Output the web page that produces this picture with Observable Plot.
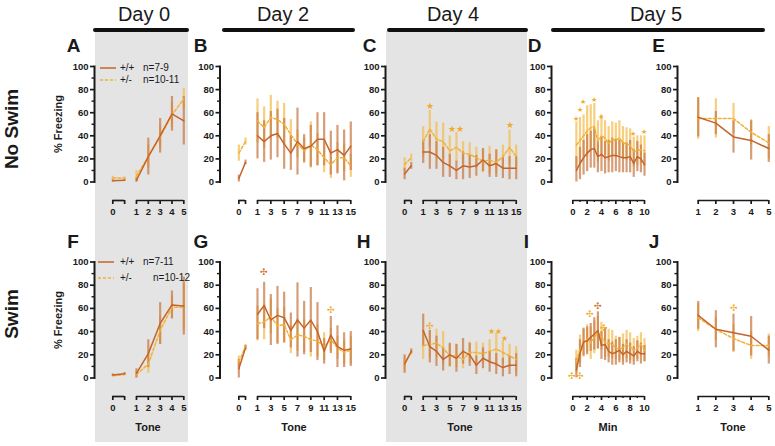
<!DOCTYPE html>
<html><head><meta charset="utf-8">
<script src="https://cdn.jsdelivr.net/npm/d3@7"></script>
<script src="https://cdn.jsdelivr.net/npm/@observablehq/plot@0.6"></script>
<style>
body{margin:0;background:#fff;}
#fig{position:relative;width:775px;height:446px;overflow:hidden;font-family:"Liberation Sans",Arial,sans-serif;color:#1a1a1a;background:#fff;}
.abs{position:absolute;line-height:1;white-space:nowrap;}
.c{transform:translate(-50%,-50%);}
.grey{background:#e4e4e4;}
.bar{background:#111;height:4.5px;border-radius:2.25px;}
.day{font-size:20px;}
.letter{font-weight:bold;font-size:19px;}
.rowlab{font-weight:bold;font-size:19px;transform:translate(-50%,-50%) rotate(-90deg);}
.ylab{font-weight:bold;font-size:11px;transform:translate(-50%,-50%) rotate(-90deg);}
.xlab{font-weight:bold;font-size:11px;}
.leg{font-size:10px;}
</style>
</head><body><div id="fig"></div>
<script>
// ---------------- data ----------------
const WT_LABEL = "+/+", HET_LABEL = "+/-";
const legendTop = ["n=7-9", "n=10-11"];
const legendBottom = ["n=7-11", "n=10-12"];
const dayLabels = ["Day 0", "Day 2", "Day 4", "Day 5"];
const rowLabels = ["No Swim", "Swim"];
const panelLetters = ["A","B","C","D","E","F","G","H","I","J"];

const tones5 = [1,2,3,4,5];
const tones15 = [1,2,3,4,5,6,7,8,9,10,11,12,13,14,15];
const mins = [0.5,1,1.5,2,2.5,3,3.5,4,4.5,5,5.5,6,6.5,7,7.5,8,8.5,9,9.5,10];
const baseA = [-1, 0];        // baseline bins (label "0")
const baseB = [-1.8, -0.8];

// A: Day 0, No Swim
const A_wt = [1.5, 22, 40, 59, 53];     const A_wtErr = [2, 16, 15, 15, 21];
const A_het = [5, 22, 39, 58, 72];      const A_hetErr = [5, 10, 10, 11, 9];
const A_bWt = [1, 1.5];  const A_bWtErr = [1, 1];
const A_bHet = [3.5, 3.5]; const A_bHetErr = [1.5, 1];
// B: Day 2, No Swim
const B_wt = [40,35,40,42,33,25,35,29,31,37,37,25,28,23,31];
const B_wtErr = [20,18,21,21,22,15,29,12,18,23,23,19,21,22,21];
const B_het = [53,47,56,54,50,41,33,27,32,28,21,15,21,21,14];
const B_hetErr = [19,18,19,16,18,13,12,11,20,14,13,12,13,12,10];
const B_bWt = [3, 17]; const B_bWtErr = [3, 2];
const B_bHet = [25, 35]; const B_bHetErr = [7, 3];
// C: Day 4, No Swim
const C_wt = [26,26,23,17,14,10,14,13,14,19,14,16,12,12,12];
const C_wtErr = [10,15,12,13,10,8,12,10,9,10,10,12,9,10,10];
const C_het = [35,46,37,35,27,30,25,24,21,18,19,17,22,30,22];
const C_hetErr = [13,16,15,16,13,13,10,10,9,10,12,10,10,15,10];
const C_bWt = [7, 14]; const C_bWtErr = [5, 3];
const C_bHet = [15, 21]; const C_bHetErr = [6, 3];
const C_starX = [2, 6, 14]; const C_starY = [66, 46, 49]; const C_starT = ["★", "★★", "★"];
// D: Day 5 (min), No Swim
const D_wt = [10,16,21,25,28,29,22,24,21,22,23,23,22,21,21,22,16,22,20,15];
const D_wtErr = [12,14,15,16,16,17,14,15,14,14,15,14,14,13,13,14,12,13,12,10];
const D_het = [32,36,40,44,47,48,35,40,38,33,37,36,38,34,33,32,26,27,28,27];
const D_hetErr = [20,20,18,22,20,20,18,18,15,15,15,15,15,14,14,14,13,13,12,13];
const D_starX = [0.45, 0.95, 1.45, 2.9, 3.95, 8.4, 9.95];
const D_starY = [55, 62, 69, 71, 56, 42, 43];
const D_starT = ["★","★","★","★","★","★","★"];
// E: Day 5 (tone), No Swim
const E_wt = [56,51,39,36,29]; const E_wtErr = [17,10,14,17,12];
const E_het = [55,55,55,43,34]; const E_hetErr = [18,17,13,11,14];
// F: Day 0, Swim
const F_wt = [4,21,47,63,62]; const F_wtErr = [4,12,18,12,25];
const F_het = [3,12,41,61,61]; const F_hetErr = [3,8,12,10,20];
const F_bWt = [2.5, 3.7]; const F_bWtErr = [1, 1];
const F_bHet = [2, 3]; const F_bHetErr = [1, 1];
// G: Day 2, Swim
const G_wt = [55,62.5,50,54,52,41,50,43,50,40,23,37,27,24,25];
const G_wtErr = [22,20,22,25,22,15,32,23,28,25,11,16,18,15,15];
const G_het = [47,48,53,45,46,33,37,36,33,32,27,33,26,22,24];
const G_hetErr = [15,15,15,15,15,12,14,14,15,14,12,10,10,10,12];
const G_bWt = [8, 26]; const G_bWtErr = [8, 2];
const G_bHet = [14, 27]; const G_bHetErr = [5, 2];
const G_crossWtX = [2]; const G_crossWtY = [91]; const G_crossWtT = ["✣"];
const G_crossHetX = [12]; const G_crossHetY = [58]; const G_crossHetT = ["✣"];
// H: Day 4, Swim
const H_wt = [41,27,23,16,20,17,23,20,11,17,14,12,9,11,11];
const H_wtErr = [14,14,13,10,10,12,11,10,8,9,9,9,8,8,10];
const H_het = [28,29,30,26,19,19,16,22,22,21,23,25,22,19,16];
const H_hetErr = [12,12,12,14,10,10,8,9,9,9,10,14,10,10,11];
const H_bWt = [12, 23]; const H_bWtErr = [8, 2];
const H_bHet = [12, 22]; const H_bHetErr = [6, 2];
const H_crossHetX = [2]; const H_crossHetY = [45]; const H_crossHetT = ["✣"];
const H_starX = [11.8, 13.2]; const H_starY = [40, 34]; const H_starT = ["★★", "★"];
// I: Day 5 (min), Swim
const I_wt = [7,21,31,32,35,38,41,28,29,23,21,22,24,20,23,21,19,23,21,21];
const I_wtErr = [10,12,12,12,12,14,16,12,14,10,10,11,11,9,10,9,8,9,9,7];
const I_het = [14,25,30,34,30,35,39,36,30,30,29,26,25,26,29,27,24,26,29,24];
const I_hetErr = [10,12,12,12,14,14,14,12,12,12,12,10,10,12,12,12,10,10,10,10];
const I_crossHetX = [0.47, 2.4, 4.35]; const I_crossHetY = [1.5, 55, 43]; const I_crossHetT = ["✣✣", "✣", "✣"];
const I_crossWtX = [3.45]; const I_crossWtY = [62]; const I_crossWtT = ["✣"];
// J: Day 5 (tone), Swim
const J_wt = [54,42,39,36,24]; const J_wtErr = [12,16,16,17,12];
const J_het = [52,42,34,28,28]; const J_hetErr = [12,10,12,12,10];
const J_crossHetX = [3]; const J_crossHetY = [60]; const J_crossHetT = ["✣"];

// ---------------- style ----------------
const INK = "#1a1a1a";
const WT = "#c4642a", HET = "#f2b136";
const WT_ERR = "#c97c48", HET_ERR = "#f3bd52";
const MARK_HET = "#f0aa2c", MARK_WT = "#cf6e2c";
const FONT = "'Liberation Sans', Arial, sans-serif";

const fig = document.getElementById("fig");
function el(cls, txt, left, top, extra) {
  const d = document.createElement("div");
  d.className = "abs " + cls;
  d.textContent = txt;
  d.style.left = left + "px"; d.style.top = top + "px";
  if (extra) Object.assign(d.style, extra);
  fig.appendChild(d); return d;
}

// grey backgrounds
el("grey", "", 95, 31, {width: "93px", height: "411px"});
el("grey", "", 386, 31, {width: "141px", height: "411px"});
// header bars and labels
[[93,189],[222,355],[387,528],[551,765]].forEach(([a,b]) => el("bar","",a,27.5,{width:(b-a)+"px"}));
[[144,14],[283,14],[453,14],[656,14]].forEach(([x,y],i) => el("day c", dayLabels[i], x, y));
// row labels
el("rowlab", rowLabels[0], 11, 129);
el("rowlab", rowLabels[1], 11, 314);
// panel letters
[[73.5,45],[200.5,45],[369.5,45],[534.5,45],[658.5,45],[73,241],[201,241],[363.5,241],[526.5,241],[654,241]]
  .forEach(([x,y],i) => el("letter c", panelLetters[i], x, y));
// y titles
el("ylab", "% Freezing", 57.5, 123.5);
el("ylab", "% Freezing", 57.5, 319.5);
// x titles
[["Tone",148],["Tone",294],["Tone",460],["Min",608],["Tone",733]].forEach(([t,x]) => el("xlab c", t, x, 427));

// legends
function legend(x, y1, y2, nLabels, nX2) {
  const mk = (y, dash, color, lab, n, nx) => {
    const s = document.createElementNS("http://www.w3.org/2000/svg","svg");
    s.setAttribute("width","16"); s.setAttribute("height","4");
    s.style.position="absolute"; s.style.left=(x)+"px"; s.style.top=(y-2)+"px";
    const l = document.createElementNS("http://www.w3.org/2000/svg","line");
    l.setAttribute("x1","0"); l.setAttribute("x2","16"); l.setAttribute("y1","2"); l.setAttribute("y2","2");
    l.setAttribute("stroke", color); l.setAttribute("stroke-width","1.5");
    if (dash) l.setAttribute("stroke-dasharray","3,2");
    s.appendChild(l); fig.appendChild(s);
    el("leg", lab, 120, y, {transform:"translateY(-50%)"});
    el("leg", n, nx, y, {transform:"translateY(-50%)"});
  };
  mk(y1, false, WT, WT_LABEL, nLabels[0], 143);
  mk(y2, true, HET, HET_LABEL, nLabels[1], nX2);
}

// ---------------- panels ----------------
const ROWS = [{top:56, py0:181.5, py100:66}, {top:252, py0:377.5, py100:261.5}];
const COLS = {
  A:{left:60, width:135, axisX:94, dom:[-1,5], px:[112.3,183.3]},
  B:{left:190, width:170, axisX:219.5, dom:[1,15], px:[257,350.3]},
  C:{left:355, width:170, axisX:385, dom:[1,15], px:[422.7,515.7]},
  D:{left:521, width:130, axisX:551, dom:[0,10], px:[572.3,644]},
  E:{left:647, width:128, axisX:677, dom:[1,5], px:[697.7,768.3]}
};
const H = 174, DY = 18.5;

function seriesMarks(xs, ys, es, color, errColor, dash) {
  const d = xs.map((x,i)=>({x, y: ys[i], e: es[i]}));
  return {
    err: Plot.ruleX(d, {x:"x", y1: r=>Math.max(0, r.y - r.e), y2: r=>r.y + r.e, stroke: errColor, strokeWidth: 2.2, strokeOpacity: 0.75}),
    line: Plot.line(d, {x:"x", y:"y", stroke: color, strokeWidth: 1.5, strokeDasharray: dash})
  };
}
function axisGroup(ax) {
  const out = [
    Plot.ruleY([0], {x1: () => ax.extent[0], x2: () => ax.extent[1], dy: DY, stroke: INK, strokeWidth: 1.7}),
    Plot.axisX({ticks: ax.ticks, tickFormat: ax.fmt, tickSize: 4, tickPadding: 4, dy: DY, label: null, strokeWidth: 1.7, fontSize: 9.5})
  ];
  if (ax.minor) out.push(Plot.axisX({ticks: ax.minor, tickFormat: () => "", tickSize: 2, dy: DY, label: null, strokeWidth: 1.4}));
  return out;
}
function symbols(xs, ys, ts, color, size) {
  const d = xs.map((x,i)=>({x, y: ys[i], t: ts[i]}));
  return Plot.text(d, {x:"x", y:"y", text: "t", fill: color, fontSize: size || 8.5, fontWeight: "normal"});
}

function panel(colKey, row, cfg) {
  const C = COLS[colKey], R = ROWS[row];
  const top = R.top;
  const mt = R.py100 - top, mb = H - (R.py0 - top);
  const marks = [
    Plot.frame({anchor: "left", stroke: INK, strokeWidth: 2}),
    Plot.axisY({ticks: [0,20,40,60,80,100], tickSize: 4, tickPadding: 2, label: null, strokeWidth: 1.7, fontSize: 9.5}),
    Plot.axisY({ticks: [10,30,50,70,90], tickSize: 2.5, tickFormat: () => "", label: null, strokeWidth: 1.4})
  ];
  cfg.axes.forEach(ax => marks.push(...axisGroup(ax)));
  const groups = [];
  if (cfg.base) {
    groups.push(seriesMarks(cfg.base.x, cfg.base.het, cfg.base.hetErr, HET, HET_ERR, "3,2"));
    groups.push(seriesMarks(cfg.base.x, cfg.base.wt, cfg.base.wtErr, WT, WT_ERR, null));
  }
  groups.push(seriesMarks(cfg.x, cfg.het, cfg.hetErr, HET, HET_ERR, "3,2"));
  groups.push(seriesMarks(cfg.x, cfg.wt, cfg.wtErr, WT, WT_ERR, null));
  groups.forEach(g => marks.push(g.err));
  groups.forEach(g => marks.push(g.line));
  (cfg.ann || []).forEach(a => marks.push(a));
  const svg = Plot.plot({
    width: C.width, height: H,
    marginLeft: C.axisX - C.left, marginRight: 0, marginTop: mt, marginBottom: mb,
    x: {domain: C.dom, range: [C.px[0] - C.left, C.px[1] - C.left]},
    y: {domain: [0, 100]},
    style: {background: "transparent", fontFamily: FONT, fontWeight: "bold", fontSize: "9.5px", color: INK, overflow: "visible"},
    marks
  });
  const wrap = document.createElement("div");
  wrap.className = "abs";
  wrap.style.left = C.left + "px"; wrap.style.top = top + "px";
  wrap.appendChild(svg); fig.appendChild(wrap);
}

const axes5base = [
  {extent: baseA, ticks: baseA, fmt: (d) => d === baseA[0] ? "0" : ""},
  {extent: [1,5], ticks: tones5, fmt: d => d}
];
const odd15 = tones15.filter(d => d % 2 === 1);
const axes15base = [
  {extent: baseB, ticks: baseB, fmt: (d) => d === baseB[0] ? "0" : ""},
  {extent: [1,15], ticks: odd15, fmt: d => d}
];
const axesMin = [{extent: [0,10], ticks: [0,2,4,6,8,10], minor: [1,3,5,7,9], fmt: d => d}];
const axesTone5 = [{extent: [1,5], ticks: tones5, fmt: d => d}];

panel("A", 0, {x: tones5, wt: A_wt, wtErr: A_wtErr, het: A_het, hetErr: A_hetErr,
  base: {x: baseA, wt: A_bWt, wtErr: A_bWtErr, het: A_bHet, hetErr: A_bHetErr}, axes: axes5base});
panel("B", 0, {x: tones15, wt: B_wt, wtErr: B_wtErr, het: B_het, hetErr: B_hetErr,
  base: {x: baseB, wt: B_bWt, wtErr: B_bWtErr, het: B_bHet, hetErr: B_bHetErr}, axes: axes15base});
panel("C", 0, {x: tones15, wt: C_wt, wtErr: C_wtErr, het: C_het, hetErr: C_hetErr,
  base: {x: baseB, wt: C_bWt, wtErr: C_bWtErr, het: C_bHet, hetErr: C_bHetErr}, axes: axes15base,
  ann: [symbols(C_starX, C_starY, C_starT, MARK_HET)]});
panel("D", 0, {x: mins, wt: D_wt, wtErr: D_wtErr, het: D_het, hetErr: D_hetErr, axes: axesMin,
  ann: [symbols(D_starX, D_starY, D_starT, MARK_HET, 6.5)]});
panel("E", 0, {x: tones5, wt: E_wt, wtErr: E_wtErr, het: E_het, hetErr: E_hetErr, axes: axesTone5});

panel("A", 1, {x: tones5, wt: F_wt, wtErr: F_wtErr, het: F_het, hetErr: F_hetErr,
  base: {x: baseA, wt: F_bWt, wtErr: F_bWtErr, het: F_bHet, hetErr: F_bHetErr}, axes: axes5base});
panel("B", 1, {x: tones15, wt: G_wt, wtErr: G_wtErr, het: G_het, hetErr: G_hetErr,
  base: {x: baseB, wt: G_bWt, wtErr: G_bWtErr, het: G_bHet, hetErr: G_bHetErr}, axes: axes15base,
  ann: [symbols(G_crossWtX, G_crossWtY, G_crossWtT, MARK_WT), symbols(G_crossHetX, G_crossHetY, G_crossHetT, MARK_HET)]});
panel("C", 1, {x: tones15, wt: H_wt, wtErr: H_wtErr, het: H_het, hetErr: H_hetErr,
  base: {x: baseB, wt: H_bWt, wtErr: H_bWtErr, het: H_bHet, hetErr: H_bHetErr}, axes: axes15base,
  ann: [symbols(H_crossHetX, H_crossHetY, H_crossHetT, MARK_HET), symbols(H_starX, H_starY, H_starT, MARK_HET, 8)]});
panel("D", 1, {x: mins, wt: I_wt, wtErr: I_wtErr, het: I_het, hetErr: I_hetErr, axes: axesMin,
  ann: [symbols(I_crossHetX, I_crossHetY, I_crossHetT, MARK_HET), symbols(I_crossWtX, I_crossWtY, I_crossWtT, MARK_WT)]});
panel("E", 1, {x: tones5, wt: J_wt, wtErr: J_wtErr, het: J_het, hetErr: J_hetErr, axes: axesTone5,
  ann: [symbols(J_crossHetX, J_crossHetY, J_crossHetT, MARK_HET)]});

legend(100, 68, 80, legendTop, 143);
legend(98, 262, 278, legendBottom, 153);
</script></body></html>
